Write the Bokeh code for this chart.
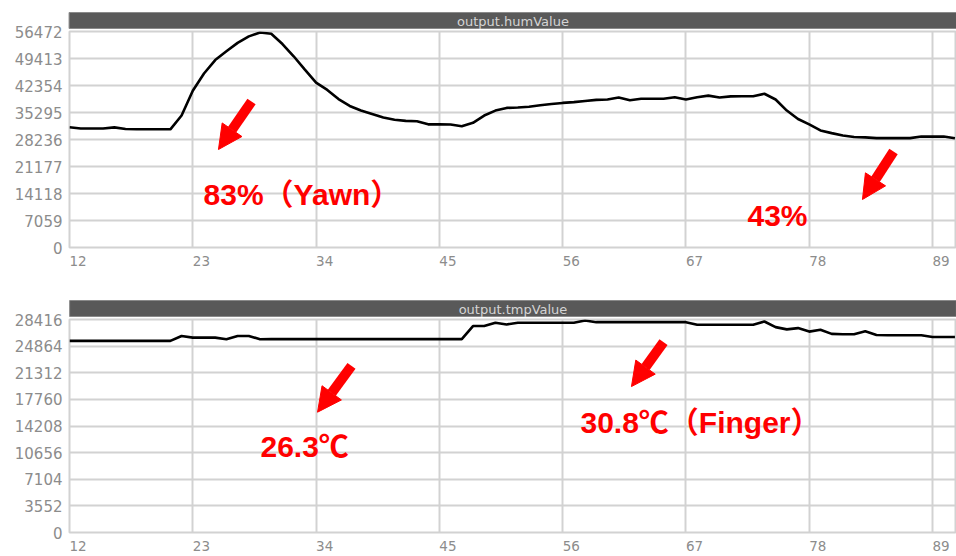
from bokeh.plotting import figure
from bokeh.models import Range1d, FixedTicker, Arrow, NormalHead, Label, Title, ColumnDataSource
from bokeh.layouts import column
from bokeh.embed import file_html
from bokeh.resources import INLINE

# ---------------- data ----------------
x_vals = list(range(12, 92))

hum_values = [31450, 31100, 31100, 31100, 31400, 31000, 30900, 30900, 30900, 30900,
              34500, 41000, 45500, 49000, 51300, 53500, 55200, 56200, 55900, 53200,
              50000, 46500, 43100, 41200, 38800, 37000, 35800, 34900, 34000, 33400,
              33100, 33000, 32200, 32200, 32150, 31700, 32600, 34500, 35800, 36500,
              36600, 36800, 37200, 37500, 37800, 38000, 38300, 38600, 38700, 39200,
              38500, 38900, 38900, 38900, 39300, 38700, 39300, 39700, 39200, 39500,
              39550, 39550, 40200, 38700, 35800, 33600, 32200, 30600, 29900, 29300,
              28900, 28800, 28600, 28600, 28600, 28600, 29000, 29000, 29000, 28570]

tmp_values = [25560, 25560, 25560, 25560, 25560, 25560, 25560, 25560, 25560, 25560,
              26220, 26000, 26000, 26000, 25790, 26220, 26220, 25790, 25800, 25800,
              25800, 25800, 25800, 25800, 25800, 25800, 25800, 25800, 25800, 25800,
              25800, 25800, 25800, 25800, 25800, 25800, 27540, 27540, 27980, 27760,
              27980, 27980, 27980, 27980, 27980, 27980, 28290, 28060, 28060, 28060,
              28060, 28060, 28060, 28060, 28060, 28060, 27720, 27720, 27720, 27720,
              27720, 27720, 28150, 27400, 27100, 27270, 26800, 27060, 26500, 26440,
              26440, 26840, 26350, 26310, 26310, 26310, 26310, 26090, 26090, 26090]

x_ticks = [12, 23, 34, 45, 56, 67, 78, 89]
hum_ticks = [0, 7059, 14118, 21177, 28236, 35295, 42354, 49413, 56472]
tmp_ticks = [0, 3552, 7104, 10656, 14208, 17760, 21312, 24864, 28416]

titles = ["output.humValue", "output.tmpValue"]

# annotations: (text, x, y)
hum_notes = [("83%（Yawn）", 23.96, 13850), ("43%", 72.49, 8360)]
tmp_notes = [("26.3℃", 29.04, 11500), ("30.8℃（Finger）", 57.59, 14700)]
# arrows: (x_start, y_start, x_end, y_end)
hum_arrows = [(28.24, 38170, 25.29, 25620), (85.52, 25100, 82.75, 12550)]
tmp_arrows = [(37.16, 22230, 34.13, 16050), (65.0, 25390, 62.14, 19470)]

FIG_W = 956
LEFT = 69
FRAME_W = FIG_W - LEFT


def make_fig(title, yvals, yticks, height, top, bottom, notes, arrows, title_w):
    src = ColumnDataSource(dict(x=x_vals, y=yvals))
    p = figure(width=FIG_W, height=height, output_backend="svg", toolbar_location=None,
               x_range=Range1d(12, 91.14), y_range=Range1d(0, yticks[-1]),
               min_border_left=LEFT, min_border_right=0,
               min_border_top=top, min_border_bottom=bottom,
               title=None)
    side = int((FRAME_W - title_w) / 2)
    t = Title(text=title, align="center", text_font_size="13px", text_color="#d4d4d4",
              text_font="DejaVu Sans", text_font_style="normal",
              background_fill_color="#595959", border_line_color="#8a8a8a",
              standoff=6, padding=dict(left=side, right=side, top=1, bottom=0))
    p.add_layout(t, "above")
    p.line("x", "y", source=src, line_color="black", line_width=2.6)

    p.xaxis.ticker = FixedTicker(ticks=x_ticks)
    p.yaxis.ticker = FixedTicker(ticks=yticks)
    # labels sit to the right of their tick, as in the original
    p.xaxis.major_label_overrides = {t_: "\u2007\u2007" + str(t_) for t_ in x_ticks}
    for ax in p.axis:
        ax.axis_line_color = None
        ax.major_tick_line_color = None
        ax.minor_tick_line_color = None
        ax.major_tick_out = 0
        ax.major_tick_in = 0
        ax.major_label_text_color = "#8c8c8c"
        ax.major_label_text_font = "DejaVu Sans"
        ax.major_label_text_font_size = "13.5px"
    p.yaxis.major_label_text_font_size = "15px"
    p.xaxis.major_label_standoff = 5
    p.yaxis.major_label_standoff = 7
    p.grid.grid_line_color = "#d2d2d2"
    p.grid.grid_line_width = 2
    p.xgrid.ticker = FixedTicker(ticks=x_ticks)
    p.ygrid.ticker = FixedTicker(ticks=yticks)
    p.outline_line_color = "#d2d2d2"
    p.outline_line_width = 2
    p.background_fill_color = "white"

    for xs, ys, xe, ye in arrows:
        p.add_layout(Arrow(end=NormalHead(size=24, fill_color="#ff0000", line_color="#ff0000", line_width=1),
                           x_start=xs, y_start=ys, x_end=xe, y_end=ye,
                           line_color="#ff0000", line_width=10))
    for txt, xx, yy in notes:
        p.add_layout(Label(x=xx, y=yy, text=txt, text_color="#ff0000", text_font_size="30px",
                           text_font="Liberation Sans, 'Noto Sans CJK SC'", text_font_style="bold",
                           text_baseline="alphabetic", text_align="left"))
    return p


p1 = make_fig(titles[0], hum_values, hum_ticks, 280, 31, 33, hum_notes, hum_arrows, 111)
p2 = make_fig(titles[1], tmp_values, tmp_ticks, 276, 39, 21, tmp_notes, tmp_arrows, 109)

layout = column(p1, p2, spacing=0)
open("out.html", "w").write(file_html(layout, INLINE))
